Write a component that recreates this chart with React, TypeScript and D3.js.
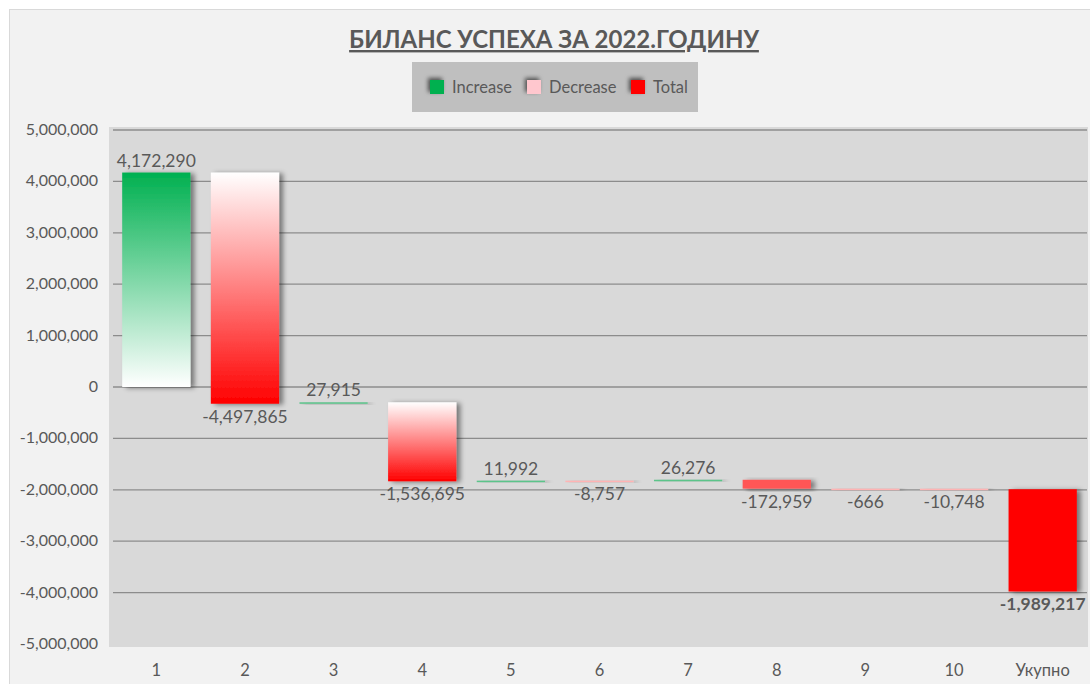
import React from "react";
import * as d3 from "d3";

const categories = ["1", "2", "3", "4", "5", "6", "7", "8", "9", "10", "Укупно"];
const deltas = [4172290, -4497865, 27915, -1536695, 11992, -8757, 26276, -172959, -666, -10748];
const totalValue = -1989217;
const yTicks = [5000000, 4000000, 3000000, 2000000, 1000000, 0, -1000000, -2000000, -3000000, -4000000, -5000000];
const legendItems = [
  { key: "Increase", color: "#00b050" },
  { key: "Decrease", color: "#ffc7ce" },
  { key: "Total", color: "#ff0000" },
];
const title = "БИЛАНС УСПЕХА ЗА 2022.ГОДИНУ";

type Bar = { cat: string; start: number; end: number; value: number; kind: "inc" | "dec" | "total" };

function buildBars(): Bar[] {
  const bars: Bar[] = [];
  let run = 0;
  deltas.forEach((d, i) => {
    const start = run;
    run += d;
    bars.push({ cat: categories[i], start, end: run, value: d, kind: d >= 0 ? "inc" : "dec" });
  });
  // total bar as drawn in the reference: hangs below the running total
  bars.push({ cat: categories[10], start: totalValue, end: totalValue * 2, value: totalValue, kind: "total" });
  return bars;
}

const FONT = "Lato, 'Open Sans', sans-serif";
const TXT = "#595959";
const fmtBase = d3.format(",");
const fmt = (v: number) => fmtBase(v).replace("\u2212", "-");

export default function App() {
  const W = 1090, H = 684;
  const plotL = 112, plotR = 1087;
  const x = d3.scaleBand<string>().domain(categories).range([plotL, plotR]).paddingInner(0.23).paddingOuter(0.115);
  const y = d3.scaleLinear().domain([-5000000, 5000000]).range([644, 130]);
  const bars = buildBars();

  return (
    <svg width={W} height={H} style={{ position: "fixed", left: 0, top: 0 }} fontFamily={FONT}>
      <defs>
        <linearGradient id="gInc" x1="0" y1="0" x2="0" y2="1">
          <stop offset="0" stopColor="#00b050" />
          <stop offset="1" stopColor="#ffffff" />
        </linearGradient>
        <linearGradient id="gDec" x1="0" y1="0" x2="0" y2="1">
          <stop offset="0" stopColor="#ffffff" />
          <stop offset="1" stopColor="#ff0000" />
        </linearGradient>
        <filter id="sh" x="-20%" y="-20%" width="150%" height="150%">
          <feDropShadow dx="4" dy="1" stdDeviation="2.5" floodColor="#000" floodOpacity="0.45" />
        </filter>
        <filter id="shl" x="-50%" y="-50%" width="200%" height="200%">
          <feDropShadow dx="-2" dy="-2" stdDeviation="2" floodColor="#000" floodOpacity="0.6" />
        </filter>
      </defs>
      <rect x={0} y={0} width={W} height={H} fill="#ffffff" />
      <rect x={9.5} y={9.5} width={1085} height={680} fill="#f2f2f2" stroke="#d9d9d9" />
      <text x={554} y={48} textAnchor="middle" fontSize={24} fontWeight="bold" fill={TXT} style={{ textDecoration: "underline" }}>
        {title}
      </text>
      {/* legend */}
      <rect x={412} y={62} width={286} height={50} fill="#bfbfbf" />
      {(() => {
        const xs = [430, 527, 631];
        return legendItems.map((it, i) => (
          <g key={it.key}>
            <rect x={xs[i]} y={80} width={14} height={14} fill={it.color} filter="url(#shl)" />
            <text x={xs[i] + 22} y={93} fontSize={16.5} fill={TXT}>{it.key}</text>
          </g>
        ));
      })()}
      {/* plot area */}
      <rect x={109} y={127} width={979} height={520} fill="#d9d9d9" />
      {yTicks.map((t) => (
        <g key={t}>
          {t !== -5000000 && (
            <line x1={113} x2={plotR} y1={y(t)} y2={y(t)} stroke="#8c8c8c" strokeWidth={1.3} />
          )}
          <text x={98} y={y(t) + 5} textAnchor="end" fontSize={16} fill={TXT}>{fmt(t)}</text>
        </g>
      ))}
      {/* bars */}
      {bars.map((b) => {
        const top = y(Math.max(b.start, b.end));
        const bot = y(Math.min(b.start, b.end));
        const h = Math.max(bot - top, 1.5);
        const bw = x.bandwidth();
        const bx = x(b.cat)!;
        let fill = "#ff0000";
        if (b.kind === "inc") fill = h > 4 ? "url(#gInc)" : "#5cc48a";
        if (b.kind === "dec") fill = h > 20 ? "url(#gDec)" : h > 4 ? "#ff5656" : "#ffb4b4";
        return <rect key={b.cat} x={bx} y={top} width={bw} height={h} fill={fill} filter="url(#sh)" />;
      })}
      {/* labels */}
      {bars.map((b) => {
        const cx = x(b.cat)! + x.bandwidth() / 2;
        const isUp = b.kind === "inc";
        const ly = isUp ? y(b.end) - 6 : y(Math.min(b.start, b.end)) + 19;
        return (
          <text key={"l" + b.cat} x={cx} y={ly} textAnchor="middle" fontSize={17.5} fill={TXT}
            fontWeight={b.kind === "total" ? "bold" : "normal"}>
            {fmt(b.value)}
          </text>
        );
      })}
      {categories.map((c) => (
        <text key={"c" + c} x={x(c)! + x.bandwidth() / 2} y={676} textAnchor="middle" fontSize={16.5} fill={TXT}>{c}</text>
      ))}
    </svg>
  );
}
